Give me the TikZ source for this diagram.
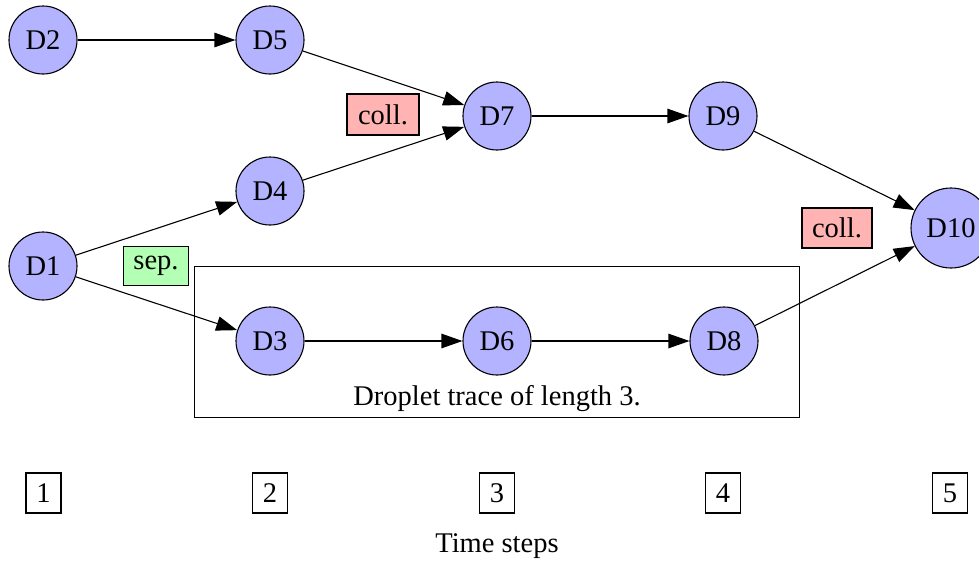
\documentclass[tikz,border=0pt]{standalone}
\usepackage{fontspec}
\setmainfont{Liberation Serif}
\usetikzlibrary{arrows.meta}
\definecolor{nodeblue}{RGB}{179,179,255}
\definecolor{collpink}{RGB}{255,179,179}
\definecolor{sepgreen}{RGB}{179,255,179}
\tikzset{
  drop/.style={circle, draw, line width=1.1pt, fill=nodeblue, minimum size=68pt, inner sep=0pt},
  lbl/.style={draw, line width=1.1pt, inner sep=0pt, minimum height=40pt},
  tstep/.style={draw, line width=1.1pt, inner sep=0pt, minimum width=35pt, minimum height=40pt},
  edge/.style={line width=1.1pt, -{Triangle[length=21pt,width=14.5pt]}, shorten >=0pt},
  plainline/.style={line width=1.1pt}
}
\begin{document}
\begin{tikzpicture}[x=1pt,y=-1pt, font=\fontsize{28.5}{34}\selectfont]
\useasboundingbox (0,0) rectangle (979,563);
% trace box
\node[draw, plainline, minimum width=605pt, minimum height=151pt, anchor=north west, inner sep=0pt] (trace) at (194,266) {};
\node (tracelbl) at (497,399) {Droplet trace of length 3.};
% droplets
\node[drop] (D2) at (43,40) {D2};
\node[drop] (D5) at (270,40) {D5};
\node[drop] (D7) at (497,116) {D7};
\node[drop] (D9) at (723,116) {D9};
\node[drop] (D4) at (270,191) {D4};
\node[drop] (D1) at (43,266) {D1};
\node[drop] (D3) at (270,341) {D3};
\node[drop] (D6) at (497,341) {D6};
\node[drop] (D8) at (724,341) {D8};
\node[drop, minimum size=80pt] (D10) at (951,228) {D10};
% labels
\node[lbl, fill=collpink, minimum width=72pt, minimum height=41pt] (coll1) at (383,114.5) {coll.};
\node[lbl, fill=collpink, minimum width=70pt, minimum height=40pt] (coll2) at (837,228) {coll.};
\node[lbl, fill=sepgreen, minimum width=65pt, minimum height=39pt] (sep) at (156,266) {sep.};
% edges
\draw[edge] (D2) -- (D5);
\draw[edge] (D5) -- (D7);
\draw[edge] (D4) -- (D7);
\draw[edge] (D7) -- (D9);
\draw[edge] (D9) -- (D10);
\draw[edge] (D1) -- (D4);
\draw[edge] (D1) -- (D3);
\draw[edge] (D3) -- (D6);
\draw[edge] (D6) -- (D8);
\draw[edge] (D8) -- (D10);
% time steps
\node[tstep] (t1) at (43.5,493) {1};
\node[tstep] (t2) at (270,493) {2};
\node[tstep] (t3) at (497,493) {3};
\node[tstep] (t4) at (723,493) {4};
\node[tstep] (t5) at (950,493) {5};
\node (tlbl) at (497,546) {Time steps};
\end{tikzpicture}
\end{document}
